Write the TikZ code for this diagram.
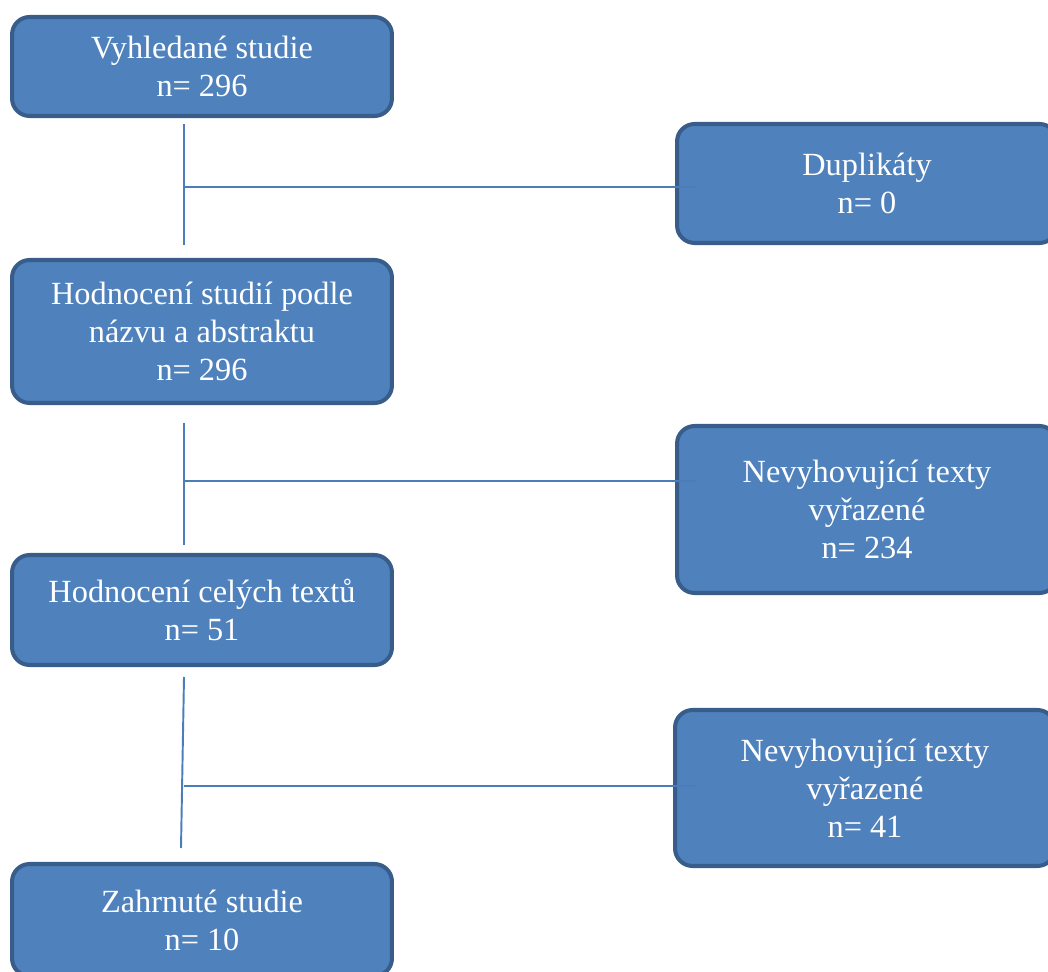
\documentclass[tikz,border=0pt]{standalone}
\usepackage{fontspec}
\setmainfont{Liberation Serif}
\definecolor{boxfill}{HTML}{4F81BD}
\definecolor{boxline}{HTML}{385D8A}
\definecolor{linkcol}{HTML}{4A7EBB}

\begin{document}
\begin{tikzpicture}[x=0.02cm, y=-0.02cm,
    box/.style={draw=boxline, fill=boxfill, line width=2.3pt, rounded corners=10pt,
      minimum width=7.6cm, inner sep=0pt, align=center, text=white,
      font=\fontsize{18.4}{21.6}\selectfont},
    link/.style={draw=linkcol, line width=1.1pt}]
    \useasboundingbox (0,0) rectangle (1048,972);
    \clip (0,0) rectangle (1048,972);

    % Main flow boxes
    \node[box, minimum height=1.98cm] (found) at (202,66.5) {Vyhledané studie\\n= 296};
    \node[box, minimum height=2.86cm] (screen) at (202,331.5) {Hodnocení studií podle\\názvu a abstraktu\\n= 296};
    \node[box, minimum height=2.2cm] (full) at (202,610) {Hodnocení celých textů\\n= 51};
    \node[box, minimum height=2.24cm] (incl) at (202,920) {Zahrnuté studie\\n= 10};

    % Side boxes
    \node[box, minimum height=2.38cm] (dup) at (867,183.5) {Duplikáty\\n= 0};
    \node[box, minimum height=3.34cm] (excl1) at (867,509.5) {Nevyhovující texty\\vyřazené\\n= 234};
    \node[box, minimum height=3.12cm] (excl2) at (865,788) {Nevyhovující texty\\vyřazené\\n= 41};

    % Connector points
    \coordinate (s1) at (184,124);
    \coordinate (e1) at (184,245);
    \coordinate (j1) at (184,187);
    \coordinate (t1) at (697,187);
    \coordinate (s2) at (184,423);
    \coordinate (e2) at (184,545);
    \coordinate (j2) at (184,481);
    \coordinate (t2) at (697,481);
    \coordinate (s3) at (184,677);
    \coordinate (e3) at (181,848);
    \coordinate (j3) at (184,786);
    \coordinate (t3) at (697,786);

    % Connectors
    \draw[link] (s1) -- (e1);
    \draw[link] (j1) -- (t1);
    \draw[link] (s2) -- (e2);
    \draw[link] (j2) -- (t2);
    \draw[link] (s3) -- (e3);
    \draw[link] (j3) -- (t3);
\end{tikzpicture}
\end{document}
